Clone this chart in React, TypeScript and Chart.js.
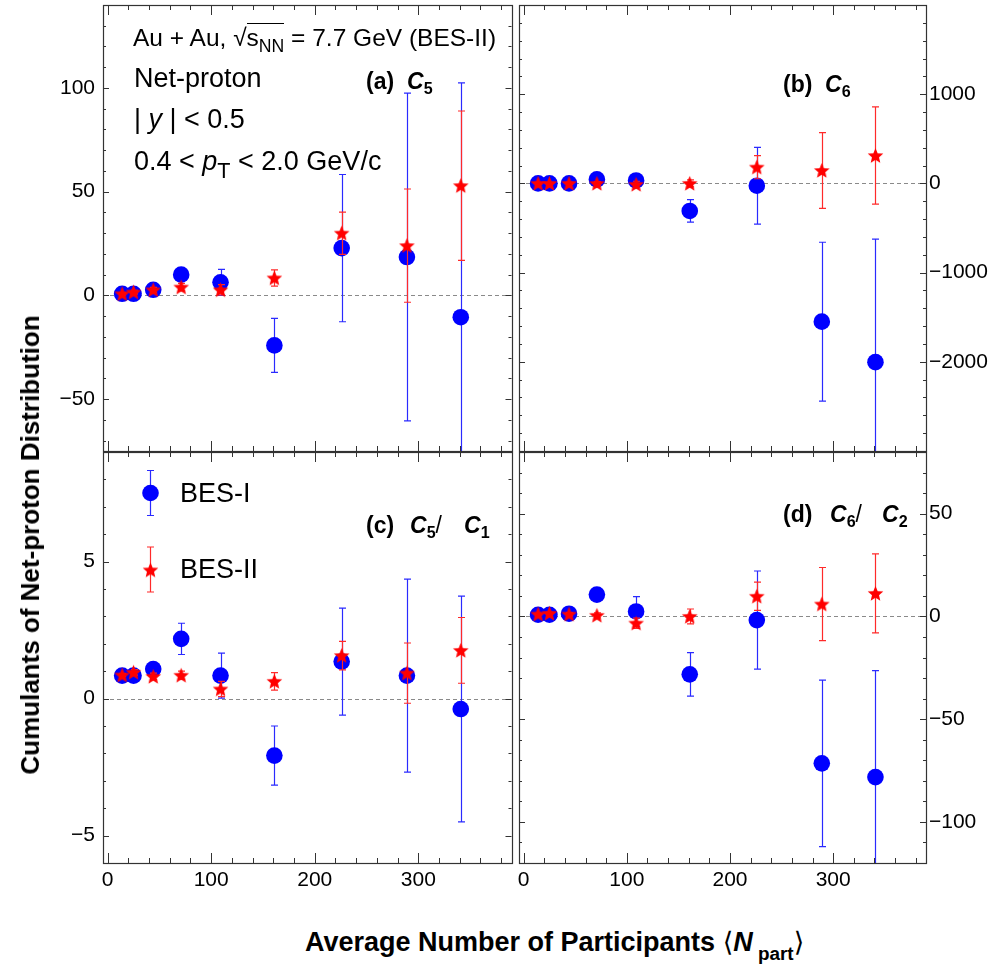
import React, { useEffect, useRef } from "react";
import { Chart, registerables } from "chart.js";

Chart.register(...registerables);

// ---------------- data ----------------
const npart = [14, 25, 44, 71, 109, 161, 226, 289, 341];

const c5Bes1 = [0.8, 0.8, 2.7, 10, 6.3, -24.1, 22.8, 18.5, -10.5];
const c5Bes1Err = [1, 1.2, 1.5, 2.5, 6.3, 13, 35.5, 79, 113];
const c5Bes2 = [0.8, 1.6, 2.7, 4, 2.7, 8.4, 30, 24, 52.9];
const c5Bes2Err = [0.6, 0.9, 1.2, 1.8, 2.5, 3.9, 10.2, 27.3, 36];

const c6Bes1 = [0, 0, 0, 45, 33, -309, -26, -1550, -2004];
const c6Bes1Err = [10, 15, 20, 40, 60, 126, 430, 890, 1380];
const c6Bes2 = [0, 0, 0, 0, -11, 0, 182, 145, 312];
const c6Bes2Err = [5, 8, 12, 20, 35, 40, 130, 425, 545];

const c51Bes1 = [0.84, 0.84, 1.08, 2.18, 0.84, -2.08, 1.35, 0.84, -0.38];
const c51Bes1Err = [0.1, 0.15, 0.2, 0.57, 0.82, 1.08, 1.95, 3.52, 4.12];
const c51Bes2 = [0.86, 0.96, 0.81, 0.85, 0.35, 0.63, 1.57, 0.93, 1.76];
const c51Bes2Err = [0.05, 0.1, 0.12, 0.15, 0.28, 0.32, 0.52, 1.1, 1.2];

const c62Bes1 = [0.8, 0.8, 1.3, 10.6, 2.4, -28.2, -1.8, -71.5, -78.2];
const c62Bes1Err = [0.5, 0.8, 1.5, 3, 7.2, 10.6, 23.9, 40.5, 51.8];
const c62Bes2 = [1.1, 1.5, 1.1, 0.5, -3.3, 0, 9.8, 6, 11.2];
const c62Bes2Err = [0.3, 0.5, 0.8, 1.2, 2.5, 3.6, 6.9, 17.8, 19.2];

const xTicks = [0, 100, 200, 300];
const c5Ticks = [-50, 0, 50, 100];
const c6Ticks = [-2000, -1000, 0, 1000];
const c51Ticks = [-5, 0, 5];
const c62Ticks = [-100, -50, 0, 50];

const seriesNames = ["BES-I", "BES-II"];

// ---------------- styles ----------------
const FONT = "'Liberation Sans', Arial, Helvetica, sans-serif";
const BLUE = "#0000ff";
const RED = "#ff0000";
const BLUE_ERR = "#2a2aff";
const RED_ERR = "#ff2a2a";
const FRAME = "#333333";

function makeStar(color: string, R: number) {
  const size = Math.ceil(R * 2 + 2);
  const c = document.createElement("canvas");
  c.width = size;
  c.height = size;
  const ctx = c.getContext("2d")!;
  ctx.translate(size / 2, size / 2 + R * 0.08);
  ctx.beginPath();
  for (let i = 0; i < 10; i++) {
    const r = i % 2 === 0 ? R : R * 0.45;
    const a = -Math.PI / 2 + (i * Math.PI) / 5;
    ctx.lineTo(r * Math.cos(a), r * Math.sin(a));
  }
  ctx.closePath();
  ctx.fillStyle = color;
  ctx.fill();
  return c;
}

type PanelCfg = {
  left: number;
  top: number;
  w: number;
  h: number;
  area: { l: number; t: number; r: number; b: number };
  yMin: number;
  yMax: number;
  yTicks: number[];
  yMinor: number;
  yPos: "left" | "right";
  showX: boolean;
  b1: number[];
  b1e: number[];
  b2: number[];
  b2e: number[];
  legend?: boolean;
};

const X_MIN = -4.5;
const X_MAX = 390;

const panels: PanelCfg[] = [
  {
    left: 0, top: 0, w: 520, h: 455,
    area: { l: 103, t: 5, r: 511.5, b: 451 },
    yMin: -75, yMax: 140, yTicks: c5Ticks, yMinor: 10, yPos: "left", showX: false,
    b1: c5Bes1, b1e: c5Bes1Err, b2: c5Bes2, b2e: c5Bes2Err,
  },
  {
    left: 512, top: 0, w: 477, h: 455,
    area: { l: 7, t: 5, r: 414, b: 451 },
    yMin: -3000, yMax: 2000, yTicks: c6Ticks, yMinor: 200, yPos: "right", showX: false,
    b1: c6Bes1, b1e: c6Bes1Err, b2: c6Bes2, b2e: c6Bes2Err,
  },
  {
    left: 0, top: 451, w: 520, h: 455,
    area: { l: 103, t: 1, r: 511.5, b: 412 },
    yMin: -6, yMax: 9, yTicks: c51Ticks, yMinor: 1, yPos: "left", showX: true,
    b1: c51Bes1, b1e: c51Bes1Err, b2: c51Bes2, b2e: c51Bes2Err, legend: true,
  },
  {
    left: 512, top: 451, w: 477, h: 455,
    area: { l: 7, t: 1, r: 414, b: 412 },
    yMin: -120, yMax: 80, yTicks: c62Ticks, yMinor: 10, yPos: "right", showX: true,
    b1: c62Bes1, b1e: c62Bes1Err, b2: c62Bes2, b2e: c62Bes2Err,
  },
];

const fmt = (v: number) => (v < 0 ? "\u2212" + Math.abs(v) : String(v));

function drawAxisTicks(ctx: CanvasRenderingContext2D, scale: any, horizontal: boolean, majors: number[], step: number, a: any, majLen: number, minLen: number) {
  const k0 = Math.ceil(scale.min / step - 1e-9);
  const k1 = Math.floor(scale.max / step + 1e-9);
  ctx.beginPath();
  for (let k = k0; k <= k1; k++) {
    const v = k * step;
    const isMajor = majors.some((m) => Math.abs(m - v) < step * 1e-3);
    const len = isMajor ? majLen : minLen;
    const p = Math.round(scale.getPixelForValue(v)) + 0.5;
    if (horizontal) {
      ctx.moveTo(p, a.bottom);
      ctx.lineTo(p, a.bottom - len);
      ctx.moveTo(p, a.top);
      ctx.lineTo(p, a.top + len);
    } else {
      ctx.moveTo(a.left, p);
      ctx.lineTo(a.left + len, p);
      ctx.moveTo(a.right, p);
      ctx.lineTo(a.right - len, p);
    }
  }
  ctx.stroke();
}

function drawErrorBar(ctx: CanvasRenderingContext2D, x: number, yt: number, yb: number, color: string) {
  ctx.strokeStyle = color;
  ctx.lineWidth = 1.2;
  ctx.beginPath();
  ctx.moveTo(x, yt);
  ctx.lineTo(x, yb);
  ctx.moveTo(x - 3.5, yt);
  ctx.lineTo(x + 3.5, yt);
  ctx.moveTo(x - 3.5, yb);
  ctx.lineTo(x + 3.5, yb);
  ctx.stroke();
}

function makePlugin(cfg: PanelCfg, star: HTMLCanvasElement) {
  return {
    id: "panelDeco",
    beforeDatasetsDraw(chart: any) {
      const { ctx, chartArea: a } = chart;
      const y = chart.scales.y;
      const y0 = Math.round(y.getPixelForValue(0)) + 0.5;
      ctx.save();
      ctx.strokeStyle = "#8a8a8a";
      ctx.lineWidth = 1;
      ctx.setLineDash([4, 3]);
      ctx.beginPath();
      ctx.moveTo(a.left, y0);
      ctx.lineTo(a.right, y0);
      ctx.stroke();
      ctx.restore();
    },
    beforeDatasetDraw(chart: any, args: any) {
      const ds = chart.data.datasets[args.index];
      const errs: number[] | undefined = ds.errors;
      if (!errs) return;
      const { ctx, chartArea: a } = chart;
      const y = chart.scales.y;
      ctx.save();
      ctx.beginPath();
      ctx.rect(a.left, a.top, a.right - a.left, a.bottom - a.top);
      ctx.clip();
      args.meta.data.forEach((pt: any, i: number) => {
        const v = ds.data[i].y;
        const e = errs[i];
        drawErrorBar(ctx, Math.round(pt.x) + 0.5, y.getPixelForValue(v + e), y.getPixelForValue(v - e), ds.errorColor);
      });
      ctx.restore();
    },
    afterDatasetsDraw(chart: any) {
      const { ctx, chartArea: a } = chart;
      ctx.save();
      ctx.strokeStyle = FRAME;
      ctx.lineWidth = 1.2;
      ctx.strokeRect(Math.round(a.left) + 0.5, Math.round(a.top) + 0.5, Math.round(a.right - a.left), Math.round(a.bottom - a.top));
      ctx.lineWidth = 1;
      drawAxisTicks(ctx, chart.scales.x, true, xTicks, 20, a, 10, 5);
      drawAxisTicks(ctx, chart.scales.y, false, cfg.yTicks, cfg.yMinor, a, 6, 3);
      if (cfg.legend) {
        // legend symbols (BES-I circle, BES-II star) with error bars
        const lx = 150 - cfg.left + 0.5;
        const ly1 = 493 - cfg.top;
        const ly2 = 570 - cfg.top;
        drawErrorBar(ctx, lx, ly1 - 22.5, ly1 + 22.5, BLUE_ERR);
        ctx.fillStyle = BLUE;
        ctx.beginPath();
        ctx.arc(lx, ly1, 8.3, 0, Math.PI * 2);
        ctx.fill();
        drawErrorBar(ctx, lx, ly2 - 23, ly2 + 22, RED_ERR);
        ctx.drawImage(star, lx - star.width / 2, ly2 - star.height / 2);
      }
      ctx.restore();
    },
  };
}

function buildConfig(cfg: PanelCfg, star: HTMLCanvasElement): any {
  const { area, w, h } = cfg;
  const zeroPad = (s: any) => {
    s.paddingTop = 0;
    s.paddingBottom = 0;
    s.paddingLeft = 0;
    s.paddingRight = 0;
  };
  const pts = (ys: number[]) => ys.map((y, i) => ({ x: npart[i], y }));
  return {
    type: "scatter",
    data: {
      datasets: [
        {
          label: seriesNames[0],
          data: pts(cfg.b1),
          errors: cfg.b1e,
          errorColor: BLUE_ERR,
          pointStyle: "circle",
          pointRadius: 8.3,
          pointBackgroundColor: BLUE,
          pointBorderWidth: 0,
          borderWidth: 0,
          showLine: false,
          order: 2,
        },
        {
          label: seriesNames[1],
          data: pts(cfg.b2),
          errors: cfg.b2e,
          errorColor: RED_ERR,
          pointStyle: star,
          pointRadius: 8,
          pointBackgroundColor: RED,
          pointBorderWidth: 0,
          borderWidth: 0,
          showLine: false,
          order: 1,
        },
      ],
    },
    options: {
      animation: false,
      responsive: false,
      maintainAspectRatio: false,
      devicePixelRatio: 1,
      events: [],
      layout: {
        autoPadding: false,
        padding: {
          left: cfg.yPos === "left" ? 0 : area.l,
          right: cfg.yPos === "left" ? w - area.r : 0,
          top: area.t,
          bottom: 0,
        },
      },
      plugins: { legend: { display: false }, tooltip: { enabled: false } },
      scales: {
        x: {
          type: "linear",
          position: "bottom",
          min: X_MIN,
          max: X_MAX,
          grid: { display: false, drawTicks: false, tickLength: 0 },
          border: { display: false },
          ticks: {
            display: cfg.showX,
            autoSkip: false,
            maxRotation: 0,
            padding: 5,
            color: "#000",
            font: { family: FONT, size: 21 },
            callback: (v: number) => fmt(v),
          },
          afterBuildTicks: (s: any) => {
            s.ticks = xTicks.map((v) => ({ value: v }));
          },
          afterFit: (s: any) => {
            s.height = h - area.b;
            zeroPad(s);
          },
        },
        y: {
          type: "linear",
          position: cfg.yPos,
          min: cfg.yMin,
          max: cfg.yMax,
          grid: { display: false, drawTicks: false, tickLength: 0 },
          border: { display: false },
          ticks: {
            autoSkip: false,
            padding: cfg.yPos === "left" ? 8 : 3,
            color: "#000",
            font: { family: FONT, size: 21 },
            callback: (v: number) => fmt(v),
          },
          afterBuildTicks: (s: any) => {
            s.ticks = cfg.yTicks.map((v) => ({ value: v }));
          },
          afterFit: (s: any) => {
            s.width = cfg.yPos === "left" ? area.l : w - area.r;
            zeroPad(s);
          },
        },
      },
    },
    plugins: [makePlugin(cfg, star)],
  };
}

function Panel({ cfg }: { cfg: PanelCfg }) {
  const ref = useRef<HTMLCanvasElement>(null);
  useEffect(() => {
    const star = makeStar(RED, 8.2);
    const chart = new Chart(ref.current!, buildConfig(cfg, star));
    return () => chart.destroy();
  }, []);
  return (
    <canvas
      ref={ref}
      width={cfg.w}
      height={cfg.h}
      style={{ position: "absolute", left: cfg.left, top: cfg.top, width: cfg.w, height: cfg.h, display: "block" }}
    />
  );
}

// ---------------- text helpers ----------------
function Txt({ x, base, size, bold, children }: { x: number; base: number; size: number; bold?: boolean; children: React.ReactNode }) {
  return (
    <div
      style={{
        position: "absolute",
        left: x,
        top: base - 0.8465 * size,
        fontFamily: FONT,
        fontSize: size,
        lineHeight: `${size}px`,
        fontWeight: bold ? "bold" : "normal",
        whiteSpace: "nowrap",
        color: "#000",
      }}
    >
      {children}
    </div>
  );
}

const Sub = ({ children, size = 0.7, drop = 0.35 }: { children: React.ReactNode; size?: number; drop?: number }) => (
  <span style={{ fontSize: `${size}em`, position: "relative", top: `${drop}em` }}>{children}</span>
);

export default function App() {
  return (
    <div style={{ position: "absolute", left: 0, top: 0, width: 989, height: 965, background: "#fff", overflow: "hidden" }}>
      {panels.map((p, i) => (
        <Panel key={i} cfg={p} />
      ))}

      {/* panel (a) annotations */}
      <Txt x={133} base={47} size={24.5}>
        Au + Au, <span>{"\u221A"}</span>
        <span style={{ borderTop: "1.3px solid #000" }}>
          s<Sub size={0.72} drop={0.3}>NN</Sub>
        </span>{" "}
        = 7.7 GeV (BES-II)
      </Txt>
      <Txt x={134} base={88} size={27}>Net-proton</Txt>
      <Txt x={134} base={129} size={27}>
        | <i>y</i> | &lt; 0.5
      </Txt>
      <Txt x={134} base={171} size={27}>
        0.4 &lt; <i>p</i>
        <Sub size={0.8} drop={0.35}>T</Sub> &lt; 2.0 GeV/c
      </Txt>

      <Txt x={366} base={89} size={23} bold>(a)</Txt>
      <Txt x={407} base={89} size={23} bold>
        <i>C</i>
        <Sub>5</Sub>
      </Txt>

      <Txt x={783} base={92} size={23} bold>(b)</Txt>
      <Txt x={825} base={92} size={23} bold>
        <i>C</i>
        <Sub>6</Sub>
      </Txt>

      <Txt x={366} base={533} size={23} bold>(c)</Txt>
      <Txt x={410} base={533} size={23} bold>
        <i>C</i>
        <Sub>5</Sub>
        <span style={{ fontWeight: "normal" }}>/</span>
      </Txt>
      <Txt x={464} base={533} size={23} bold>
        <i>C</i>
        <Sub>1</Sub>
      </Txt>

      <Txt x={783} base={522} size={23} bold>(d)</Txt>
      <Txt x={830} base={522} size={23} bold>
        <i>C</i>
        <Sub>6</Sub>
        <span style={{ fontWeight: "normal" }}>/</span>
      </Txt>
      <Txt x={882} base={522} size={23} bold>
        <i>C</i>
        <Sub>2</Sub>
      </Txt>

      {/* legend text */}
      <Txt x={180} base={503} size={27}>{seriesNames[0]}</Txt>
      <Txt x={180} base={579} size={27}>{seriesNames[1]}</Txt>

      {/* axis titles */}
      <div
        style={{
          position: "absolute",
          left: 30,
          top: 545,
          transform: "translate(-50%, -50%) rotate(-90deg)",
          fontFamily: FONT,
          fontWeight: "bold",
          fontSize: 26,
          lineHeight: "26px",
          whiteSpace: "nowrap",
          color: "#000",
        }}
      >
        Cumulants of Net-proton Distribution
      </div>
      <Txt x={305} base={951} size={27} bold>
        Average Number of Participants{" "}
        <span style={{ fontWeight: "normal", fontFamily: "'DejaVu Sans', sans-serif" }}>{"\u27E8"}</span>
        <i>N</i>
        <Sub size={0.7} drop={0.45}> part</Sub>
        <span style={{ fontWeight: "normal", fontFamily: "'DejaVu Sans', sans-serif" }}>{"\u27E9"}</span>
      </Txt>
    </div>
  );
}
